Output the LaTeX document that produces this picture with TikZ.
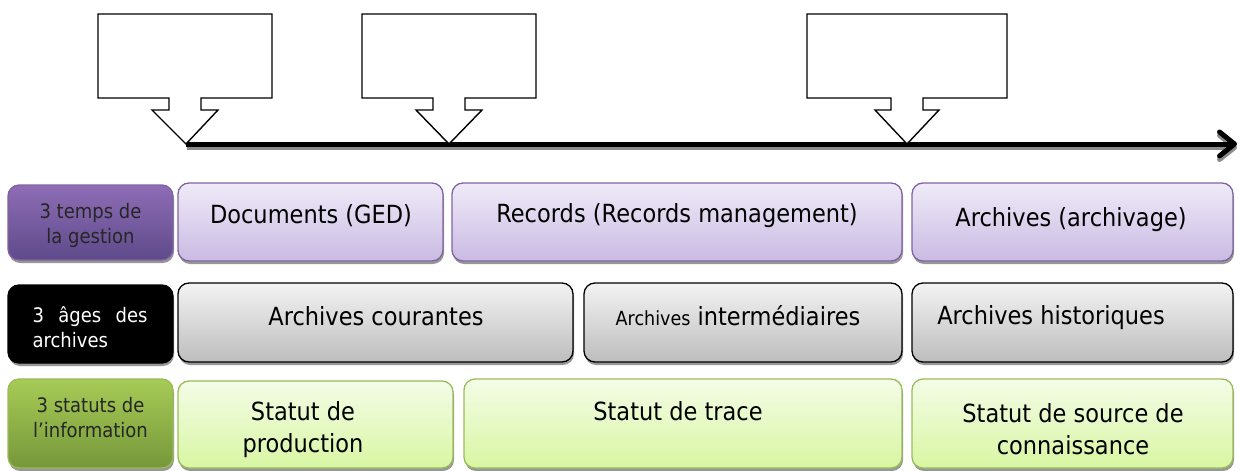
\documentclass[tikz,border=0pt]{standalone}
\usepackage{fontspec}
\setmainfont[FakeStretch=0.9]{DejaVu Sans}
\usetikzlibrary{arrows.meta,shadows,calc}

\definecolor{purpleTop}{HTML}{EFEBF8}
\definecolor{purpleBot}{HTML}{CABAE3}
\definecolor{purpleEdge}{HTML}{8064A2}
\definecolor{purpleLblTop}{HTML}{8E6DB6}
\definecolor{purpleLblBot}{HTML}{5E4A8A}
\definecolor{greyTop}{HTML}{F3F3F3}
\definecolor{greyBot}{HTML}{BDBDBD}
\definecolor{greenTop}{HTML}{F4FCE7}
\definecolor{greenBot}{HTML}{D8F6A2}
\definecolor{greenEdge}{HTML}{9BBB59}
\definecolor{greenLblTop}{HTML}{A7CB56}
\definecolor{greenLblBot}{HTML}{76973A}
\definecolor{shadowGrey}{HTML}{8C8C8C}

\tikzset{
  tile/.style={rectangle, rounded corners=11pt, line width=1.3pt, inner sep=0pt,
    drop shadow={shadow xshift=1pt, shadow yshift=-3pt, fill=shadowGrey, opacity=0.9}},
  purplebox/.style={tile, draw=purpleEdge, top color=purpleTop, bottom color=purpleBot},
  greybox/.style={tile, draw=black, top color=greyTop, bottom color=greyBot},
  greenbox/.style={tile, draw=greenEdge, top color=greenTop, bottom color=greenBot},
  purplelabel/.style={tile, draw=purpleEdge, top color=purpleLblTop, bottom color=purpleLblBot},
  blacklabel/.style={tile, draw=black, fill=black},
  greenlabel/.style={tile, draw=greenEdge, top color=greenLblTop, bottom color=greenLblBot},
  maintext/.style={font=\fontsize{25}{32}\selectfont, text=black, align=center, inner sep=0pt},
  lbltext/.style={font=\fontsize{20}{25}\selectfont, align=center, inner sep=0pt},
  callout/.style={draw=black, fill=white, line width=1.4pt, line join=miter},
  timeline/.style={line width=5pt, -{Straight Barb[length=15pt,width=24pt,round]}},
}

\begin{document}
\begin{tikzpicture}[x=1pt,y=-1pt]
\useasboundingbox (0,0) rectangle (1240,471);

% points of the time axis
\coordinate (tip1) at (186,144);
\coordinate (tip2) at (449,144);
\coordinate (tip3) at (907,144);
\coordinate (tend) at (1237,144);

% time axis with its shadow
\draw[timeline, draw=shadowGrey] ($(tip1)+(1,3.5)$) -- ($(tend)+(0,3.5)$);
\draw[timeline, draw=black] (tip1) -- (tend);

% empty callouts pointing at the axis
\draw[callout] (98,14) -- (272,14) -- (272,98) -- (201,98) -- (201,110) -- (218,110)
  -- (tip1) -- (152,110) -- (169,110) -- (169,98) -- (98,98) -- cycle;
\draw[callout] (362,14) -- (536,14) -- (536,98) -- (465,98) -- (465,110) -- (482,110)
  -- (tip2) -- (416,110) -- (433,110) -- (433,98) -- (362,98) -- cycle;
\draw[callout] (807,14) -- (1007,14) -- (1007,98) -- (923,98) -- (923,110) -- (939,110)
  -- (tip3) -- (875,110) -- (891,110) -- (891,98) -- (807,98) -- cycle;

% row 1: the three times of management
\node[purplelabel, minimum width=165pt, minimum height=75pt] (L1) at (90.5,222.5) {};
\node[purplebox, minimum width=265pt, minimum height=78pt] (doc) at (310.5,222) {};
\node[purplebox, minimum width=450pt, minimum height=78pt] (rec) at (677,222) {};
\node[purplebox, minimum width=321pt, minimum height=78pt] (arc) at (1072.5,222) {};
\node[lbltext, text=black!85] (L1t) at (90.5,225) {3 temps de\\la gestion};
\node[maintext] (doct) at (311,216) {Documents (GED)};
\node[maintext] (rect) at (677,216) {Records (Records management)};
\node[maintext] (arct) at (1071,220) {Archives (archivage)};

% row 2: the three ages of archives
\node[blacklabel, minimum width=165pt, minimum height=78pt] (L2) at (90.5,324) {};
\node[greybox, minimum width=395pt, minimum height=79pt] (cour) at (375.5,322.5) {};
\node[greybox, minimum width=318pt, minimum height=79pt] (inter) at (743,322.5) {};
\node[greybox, minimum width=321pt, minimum height=79pt] (hist) at (1072.5,322.5) {};
\node[lbltext, text=white, align=left] (L2t) at (90,327) {\makebox[115pt][s]{3 âges des}\\archives};
\node[maintext] (court) at (376,316) {Archives courantes};
\node[maintext] (intert) at (738,316) {{\fontsize{19.5}{24}\selectfont Archives} intermédiaires};
\node[maintext] (histt) at (1051,318) {Archives historiques};

% row 3: the three statuses of information
\node[greenlabel, minimum width=165pt, minimum height=89pt] (L3) at (90.5,423.5) {};
\node[greenbox, minimum width=275pt, minimum height=87pt] (prod) at (315.5,424.5) {};
\node[greenbox, minimum width=438pt, minimum height=89pt] (trace) at (683,423.5) {};
\node[greenbox, minimum width=321pt, minimum height=89pt] (src) at (1072.5,423.5) {};
\node[lbltext, text=black!85] (L3t) at (90.5,418) {3 statuts de\\l'information};
\node[maintext] (prodt) at (303,430) {Statut de\\production};
\node[maintext] (tracet) at (678,411) {Statut de trace};
\node[maintext] (srct) at (1073,429) {Statut de source de\\connaissance};
\end{tikzpicture}
\end{document}
